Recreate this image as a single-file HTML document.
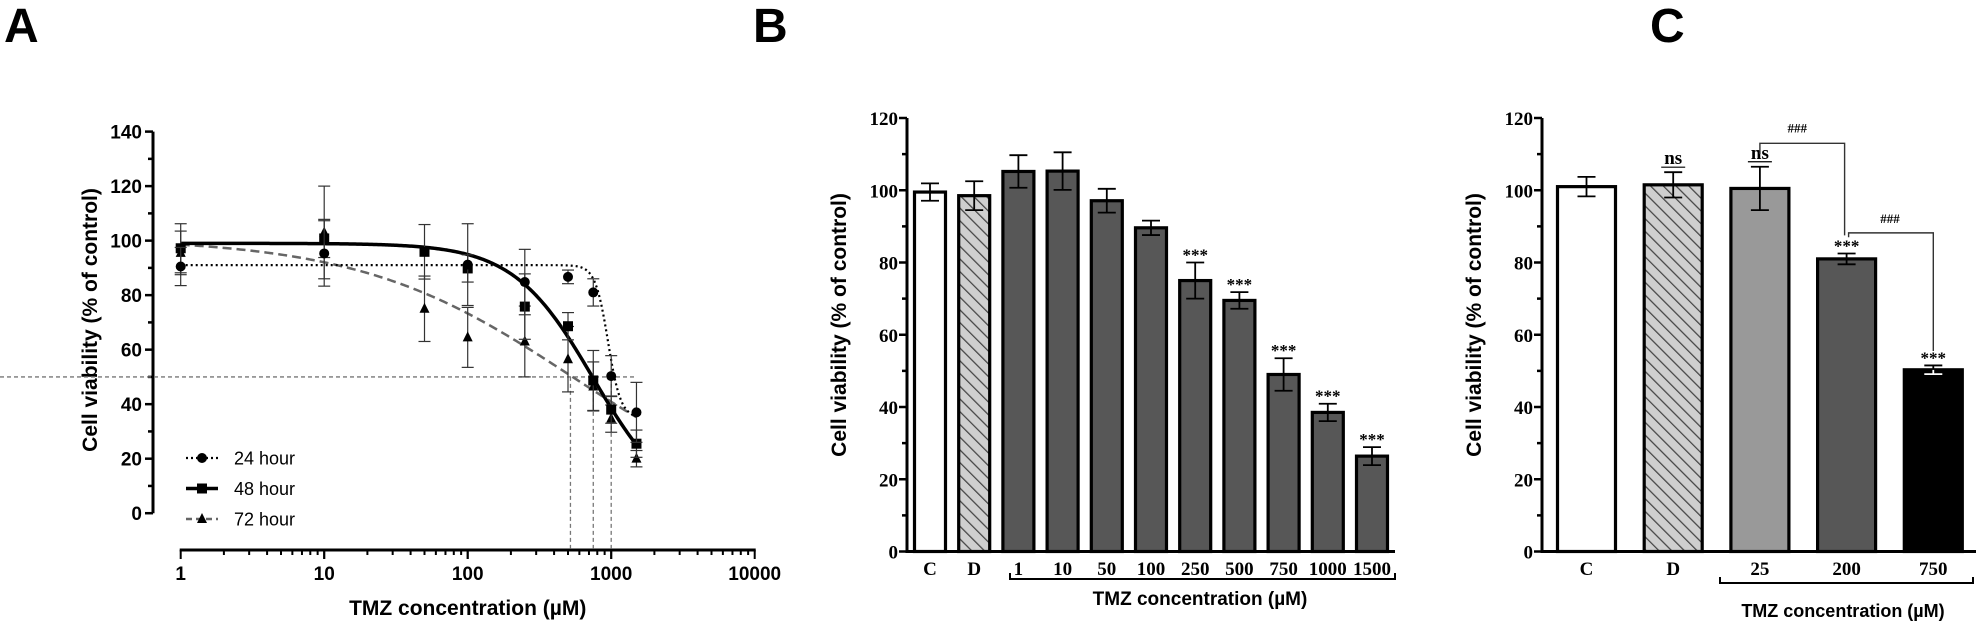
<!DOCTYPE html>
<html><head><meta charset="utf-8"><style>
html,body{margin:0;padding:0;background:#fff;}
svg{display:block;}
.sb{font-family:"Liberation Sans",sans-serif;font-weight:bold;}
.se{font-family:"Liberation Serif",serif;font-weight:bold;}
</style></head><body>
<svg id="fig" width="1988" height="630" viewBox="0 0 1988 630" xmlns="http://www.w3.org/2000/svg">
<defs>
<pattern id="hatch" width="9" height="9" patternUnits="userSpaceOnUse" patternTransform="rotate(-45)">
<rect width="9" height="9" fill="#cfcfcf"/><line x1="0" y1="0" x2="0" y2="9" stroke="#444" stroke-width="2.5"/>
</pattern>
</defs>
<text class="sb" x="4" y="42" font-size="48">A</text>
<text class="sb" x="753" y="42" font-size="48">B</text>
<text class="sb" x="1650" y="42" font-size="48">C</text>
<g id="pa"></g>
<g id="pb"></g>
<g id="pc"></g>
</svg>
<script>
// Panel A data
const aConc = [1, 10, 50, 100, 250, 500, 750, 1000, 1500];
const a24 = [90.5, 95.3, null, 91.2, 84.8, 86.7, 81, 50.3, 37];
const a24err = [7, 12, null, 15, 12, 2.5, 5, 7.5, 11];
const a48 = [97.2, 100.8, 95.9, 89.8, 75.8, 68.6, 48.7, 38, 25.5];
const a48err = [9, 7, 10, 5, 12, 5, 11, 5, 5];
const a72 = [95.5, 103, 75, 64.5, 63, 56.5, 46.5, 34.7, 20];
const a72err = [8, 17, 12, 11, 13, 12, 9, 5, 3];
const aFit24 = [91, 35, 950, 9.8];   // top, bottom, ic50, hill
const aFit48 = [99, 0, 750, 1.56];
const aFit72 = [101, 0, 520, 0.59];
const aIC50 = [520, 750, 1000];
const aYTicks = [0, 20, 40, 60, 80, 100, 120, 140];
const aXTicks = [1, 10, 100, 1000, 10000];
// Panel B data
const bCats = ["C", "D", "1", "10", "50", "100", "250", "500", "750", "1000", "1500"];
const bVals = [99.5, 98.5, 105.2, 105.3, 97.1, 89.6, 75, 69.5, 49, 38.5, 26.4];
const bErr = [2.4, 4, 4.5, 5.2, 3.3, 2, 5, 2.3, 4.5, 2.4, 2.5];
const bSig = ["", "", "", "", "", "", "***", "***", "***", "***", "***"];
const bYTicks = [0, 20, 40, 60, 80, 100, 120];
// Panel C data
const cCats = ["C", "D", "25", "200", "750"];
const cVals = [101, 101.5, 100.5, 81, 50.3];
const cErr = [2.7, 3.5, 6, 1.5, 1.2];
const cSig = ["", "ns", "ns", "***", "***"];
const cYTicks = [0, 20, 40, 60, 80, 100, 120];

const NS = "http://www.w3.org/2000/svg";
function mk(parent, tag, attrs, text) {
  const e = document.createElementNS(NS, tag);
  for (const k in attrs) e.setAttribute(k, attrs[k]);
  if (text !== undefined) e.textContent = text;
  parent.appendChild(e);
  return e;
}

// ---------- Panel A ----------
(function(){
  const g = document.getElementById('pa');
  const x0 = 180.7, dec = 143.5, yb = 513.2, yt = 131.6, axY = 550, axX = 153;
  const X = v => x0 + Math.log10(v) * dec;
  const Y = v => yb - (v / 140) * (yb - yt);
  let e = mk(g, 'line', {x1: axX, y1: yt, x2: axX, y2: yb, stroke: '#000', 'stroke-width': 3});
   
  for (let v = 0; v <= 140; v += 10) {
    const major = v % 20 === 0;
    mk(g, 'line', {x1: axX - (major ? 8 : 5), y1: Y(v), x2: axX, y2: Y(v), stroke: '#000', 'stroke-width': 2.5});
  }
  aYTicks.forEach(v => {
    const t = mk(g, 'text', {class: 'sb', x: axX - 11, y: Y(v) + 7, 'font-size': 19, 'text-anchor': 'end'}, String(v));
     
  });
  e = mk(g, 'line', {x1: X(1) - 1, y1: axY, x2: X(10000) + 1, y2: axY, stroke: '#000', 'stroke-width': 3});
   
  for (let d = 0; d < 4; d++) for (let m = 1; m <= 10; m++) {
    const v = Math.pow(10, d) * m;
    const major = m === 1 || m === 10;
    mk(g, 'line', {x1: X(v), y1: axY, x2: X(v), y2: axY + (major ? 9 : 5), stroke: '#000', 'stroke-width': 2});
  }
  aXTicks.forEach(v => {
    const t = mk(g, 'text', {class: 'sb', x: X(v), y: axY + 30, 'font-size': 19, 'text-anchor': 'middle'}, String(v));
     
  });
  e = mk(g, 'text', {class: 'sb', x: (X(1) + X(10000)) / 2, y: 615, 'font-size': 21, 'text-anchor': 'middle'}, 'TMZ concentration (µM)');
   
  e = mk(g, 'text', {class: 'sb', x: 0, y: 0, 'font-size': 21, 'text-anchor': 'middle', transform: 'translate(97,320) rotate(-90)'}, 'Cell viability (% of control)');
   
  e = mk(g, 'line', {x1: 0, y1: Y(50), x2: X(1500), y2: Y(50), stroke: '#777', 'stroke-width': 1.3, 'stroke-dasharray': '4,3'});
   
  aIC50.forEach(c => {
    const l = mk(g, 'line', {x1: X(c), y1: Y(50), x2: X(c), y2: axY, stroke: '#777', 'stroke-width': 1.3, 'stroke-dasharray': '4,3'});
     
  });
  function curve(p, style, name) {
    let d = '';
    for (let i = 0; i <= 300; i++) {
      const lx = i * (Math.log10(1500) / 300);
      const c = Math.pow(10, lx);
      const v = p[1] + (p[0] - p[1]) / (1 + Math.pow(c / p[2], p[3]));
      d += (i ? 'L' : 'M') + X(c).toFixed(2) + ',' + Y(v).toFixed(2);
    }
    const pth = mk(g, 'path', Object.assign({d: d, fill: 'none'}, style));
     
  }
  curve(aFit72, {stroke: '#666', 'stroke-width': 2.5, 'stroke-dasharray': '9,5'}, 'fit-72-hour');
  curve(aFit48, {stroke: '#000', 'stroke-width': 3.5}, 'fit-48-hour');
  curve(aFit24, {stroke: '#000', 'stroke-width': 2.2, 'stroke-dasharray': '2,3'}, 'fit-24-hour');
  function marker(gp, shape, cx, cy, r) {
    if (shape === 'circle') return mk(gp, 'circle', {cx: cx, cy: cy, r: r, fill: '#000'});
    if (shape === 'square') return mk(gp, 'rect', {x: cx - r, y: cy - r, width: 2 * r, height: 2 * r, fill: '#000'});
    return mk(gp, 'polygon', {points: `${cx},${cy - r - 1} ${cx - r},${cy + r - 1} ${cx + r},${cy + r - 1}`, fill: '#000'});
  }
  function series(vals, errs, shape, name) {
    vals.forEach((v, i) => {
      if (v === null) return;
      const cx = X(aConc[i]), cy = Y(v), ey = errs[i];
      const gp = mk(g, 'g', {});
       
      mk(gp, 'line', {x1: cx, y1: Y(v + ey), x2: cx, y2: Y(v - ey), stroke: '#333', 'stroke-width': 1.2});
      mk(gp, 'line', {x1: cx - 6, y1: Y(v + ey), x2: cx + 6, y2: Y(v + ey), stroke: '#333', 'stroke-width': 1.2});
      mk(gp, 'line', {x1: cx - 6, y1: Y(v - ey), x2: cx + 6, y2: Y(v - ey), stroke: '#333', 'stroke-width': 1.2});
      marker(gp, shape, cx, cy, 5);
    });
  }
  series(a72, a72err, 'tri', 'point-72-hour');
  series(a48, a48err, 'square', 'point-48-hour');
  series(a24, a24err, 'circle', 'point-24-hour');
  const leg = [['24 hour', 'circle', {stroke: '#000', 'stroke-width': 2.2, 'stroke-dasharray': '2,3'}],
               ['48 hour', 'square', {stroke: '#000', 'stroke-width': 3.5}],
               ['72 hour', 'tri', {stroke: '#666', 'stroke-width': 2.5, 'stroke-dasharray': '6,4'}]];
  leg.forEach((L, i) => {
    const ly = 458 + i * 30.5;
    const gp = mk(g, 'g', {});
     
    mk(gp, 'line', Object.assign({x1: 186, y1: ly, x2: 218, y2: ly}, L[2]));
    marker(gp, L[1], 202, ly, 5);
    mk(gp, 'text', {x: 234, y: ly + 6.5, 'font-size': 18, 'font-family': '"Liberation Sans",sans-serif'}, L[0]);
  });
})();

// ---------- Bar panels ----------
function barPanel(gid, prefix, cats, vals, errs, sig, yTicks, o) {
  const g = document.getElementById(gid);
  const yb = 551.5, yt = 118;
  const Y = v => yb - (v / 120) * (yb - yt);
  const X = i => o.x0 + i * o.step;
  let e;
  cats.forEach((c, i) => {
    const cx = X(i), v = vals[i];
    const gp = mk(g, 'g', {});
     
    mk(gp, 'rect', {x: cx - o.bw / 2, y: Y(v), width: o.bw, height: yb - Y(v), fill: o.fills[i], stroke: '#000', 'stroke-width': 3.2});
    const et = Y(v + errs[i]), eb = Y(v - errs[i]);
    const inner = o.fills[i] === '#000' ? '#fff' : '#000';
    mk(gp, 'line', {x1: cx, y1: Y(v), x2: cx, y2: eb, stroke: inner, 'stroke-width': 1.8});
    mk(gp, 'line', {x1: cx, y1: et, x2: cx, y2: Y(v), stroke: '#000', 'stroke-width': 1.8});
    mk(gp, 'line', {x1: cx - 9, y1: et, x2: cx + 9, y2: et, stroke: '#000', 'stroke-width': 1.8});
    mk(gp, 'line', {x1: cx - 9, y1: eb, x2: cx + 9, y2: eb, stroke: inner, 'stroke-width': 1.8});
    if (sig[i]) {
      const isNs = sig[i] === 'ns';
      const t = mk(g, 'text', {class: 'se', x: cx, y: isNs ? et - 8 : et - 2, 'font-size': isNs ? 19 : 17, 'text-anchor': 'middle', 'font-weight': isNs ? 'normal' : 'bold'}, sig[i]);
       
      if (isNs) mk(g, 'line', {x1: cx - 12, y1: et - 5, x2: cx + 12, y2: et - 5, stroke: '#000', 'stroke-width': 1.2});
    }
    const tl = mk(g, 'text', {class: 'se', x: cx, y: 575, 'font-size': 19, 'text-anchor': 'middle'}, c);
     
  });
  e = mk(g, 'line', {x1: o.ax, y1: yt, x2: o.ax, y2: yb + 1.5, stroke: '#000', 'stroke-width': 3});
   
  e = mk(g, 'line', {x1: o.ax, y1: yb, x2: o.xEnd, y2: yb, stroke: '#000', 'stroke-width': 3});
   
  for (let v = 0; v <= 120; v += 10) {
    mk(g, 'line', {x1: o.ax - (v % 20 === 0 ? 8 : 5), y1: Y(v), x2: o.ax, y2: Y(v), stroke: '#000', 'stroke-width': 2.5});
  }
  yTicks.forEach(v => {
    const t = mk(g, 'text', {class: 'se', x: o.ax - 9, y: Y(v) + 7, 'font-size': 19, 'text-anchor': 'end'}, String(v));
     
  });
  e = mk(g, 'text', {class: 'sb', x: 0, y: 0, 'font-size': 21, 'text-anchor': 'middle', transform: `translate(${o.ytx},325) rotate(-90)`}, 'Cell viability (% of control)');
   
  e = mk(g, 'path', {d: `M${o.br0},${o.bry - 6}V${o.bry}H${o.br1}V${o.bry - 6}`, fill: 'none', stroke: '#000', 'stroke-width': 2});
   
  e = mk(g, 'text', {class: 'sb', x: o.tx, y: o.ty, 'font-size': o.tfs, 'text-anchor': 'middle'}, 'TMZ concentration (µM)');
   
  return {g: g, X: X, Y: Y};
}

barPanel('pb', 'b', bCats, bVals, bErr, bSig, bYTicks, {
  x0: 930, step: 44.2, bw: 31, ax: 907, xEnd: 1395, ytx: 846,
  fills: ['#fff', 'url(#hatch)', '#575757', '#575757', '#575757', '#575757', '#575757', '#575757', '#575757', '#575757', '#575757'],
  br0: 1010, br1: 1395, bry: 579, tx: 1200, ty: 605, tfs: 19
});

const pc = barPanel('pc', 'c', cCats, cVals, cErr, cSig, cYTicks, {
  x0: 1586.5, step: 86.7, bw: 58, ax: 1542, xEnd: 1976, ytx: 1481,
  fills: ['#fff', 'url(#hatch)', '#999', '#575757', '#000'],
  br0: 1720, br1: 1973, bry: 583, tx: 1843, ty: 617, tfs: 18
});
(function(){
  const g = pc.g, X = pc.X, Y = pc.Y;
  let e = mk(g, 'path', {d: `M${X(2)},${Y(110)}V${Y(113)}H${X(3) - 2}V${Y(87.5)}`, fill: 'none', stroke: '#333', 'stroke-width': 1.4});
   
  e = mk(g, 'text', {class: 'se', x: (X(2) + X(3)) / 2 - 6, y: Y(116), 'font-size': 13, 'text-anchor': 'middle'}, '###');
   
  e = mk(g, 'path', {d: `M${X(3) + 2},${Y(87)}V${Y(88.2)}H${X(4)}V${Y(55.5)}`, fill: 'none', stroke: '#333', 'stroke-width': 1.4});
   
  e = mk(g, 'text', {class: 'se', x: (X(3) + X(4)) / 2, y: Y(91), 'font-size': 13, 'text-anchor': 'middle'}, '###');
   
})();
</script>
</body></html>
